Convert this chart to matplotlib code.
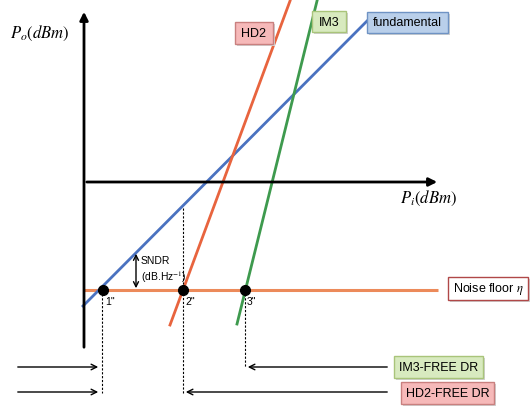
import matplotlib
matplotlib.use("Agg")
import matplotlib.pyplot as plt
from matplotlib.patches import Rectangle

plt.rcParams['font.family'] = ['Liberation Sans', 'DejaVu Sans']
plt.rcParams['mathtext.fontset'] = 'stix'

# schematic geometry, in pixel units of the 532x410 picture (y grows downward)
fund_x = [83, 367]
fund_y = [307, 22]
hd2_x = [170, 290]
hd2_y = [326, 2]
im3_x = [237, 317]
im3_y = [325, 2]
noise_x = [83, 438]
noise_y = [291, 291]

dot_x = [103, 183, 245]
dot_y = [291, 291, 291]
dot_labels = ['1"', '2"', '3"']

# dashed drop lines: x, top, bottom
drop_x = [102, 183, 245]
drop_top = [291, 209, 291]
drop_bot = [394, 394, 368]

# boxes: label, x0, y0, x1, y1, face, edge
boxes = [
    ("HD2", 235, 23, 273, 45, "#f6b9b9", "#c9807f"),
    ("IM3", 312, 12, 346, 33, "#d8eabf", "#a9c47a"),
    ("fundamental", 367, 13, 448, 34, "#b9cfea", "#6f93c4"),
    ("Noise floor $\\eta$", 448, 278, 528, 301, "white", "#b04848"),
    ("IM3-FREE DR", 394, 357, 483, 379, "#d8eabf", "#a9c47a"),
    ("HD2-FREE DR", 401, 383, 494, 405, "#f6b9b9", "#c9807f"),
]

fig = plt.figure(figsize=(5.32, 4.10), dpi=100)
ax = fig.add_axes([0, 0, 1, 1])
ax.set_xlim(0, 532)
ax.set_ylim(410, 0)
ax.axis('off')

# axes of the schematic
ax.annotate("", xy=(84, 10), xytext=(84, 351),
            arrowprops=dict(arrowstyle="-|>", color="black", lw=2, mutation_scale=12))
ax.annotate("", xy=(440, 183), xytext=(84, 183),
            arrowprops=dict(arrowstyle="-|>", color="black", lw=2, mutation_scale=12))
ax.text(10, 33, "$P_o(dBm)$", fontsize=12, va='center', ha='left')
ax.text(400, 198, "$P_i(dBm)$", fontsize=12, va='center', ha='left')

# curves
ax.plot(noise_x, noise_y, color="#ec8a5a", lw=2.2, solid_capstyle='butt')
ax.plot(fund_x, fund_y, color="#4a72c0", lw=2)
ax.plot(hd2_x, hd2_y, color="#e8643e", lw=2)
ax.plot(im3_x, im3_y, color="#3e9a4e", lw=2)

# dashed drops
for x, t, b in zip(drop_x, drop_top, drop_bot):
    ax.plot([x, x], [t, b], color="black", lw=0.8, ls=(0, (2, 1.5)))

ax.plot(dot_x, dot_y, 'o', color="black", ms=7, zorder=5)
for x, y, s in zip(dot_x, dot_y, dot_labels):
    ax.text(x + 2, y + 6, s, fontsize=7.5, va='top', ha='left')

# SNDR
ax.annotate("", xy=(136, 252), xytext=(136, 292),
            arrowprops=dict(arrowstyle="<->", color="black", lw=1, mutation_scale=9))
ax.text(141, 256, "SNDR\n(dB.Hz$^{-1}$)", fontsize=7.5, va='top', ha='left',
        linespacing=1.3)

# dynamic range arrows
for y in [368, 393]:
    ax.annotate("", xy=(101, y), xytext=(15, y),
                arrowprops=dict(arrowstyle="->", color="black", lw=1, mutation_scale=10))
ax.annotate("", xy=(245, 368), xytext=(390, 368),
            arrowprops=dict(arrowstyle="->", color="black", lw=1, mutation_scale=10))
ax.annotate("", xy=(183, 393), xytext=(390, 393),
            arrowprops=dict(arrowstyle="->", color="black", lw=1, mutation_scale=10))

for label, x0, y0, x1, y1, face, edge in boxes:
    ax.add_patch(Rectangle((x0 + 1.5, y0 + 1.5), x1 - x0, y1 - y0,
                           facecolor="#d0d0d0", edgecolor="none", zorder=3))
    ax.add_patch(Rectangle((x0, y0), x1 - x0, y1 - y0,
                           facecolor=face, edgecolor=edge, lw=1, zorder=4))
    ax.text((x0 + x1) / 2, (y0 + y1) / 2, label, fontsize=9,
            ha='center', va='center', zorder=5)

fig.savefig("out.png", dpi=100)
